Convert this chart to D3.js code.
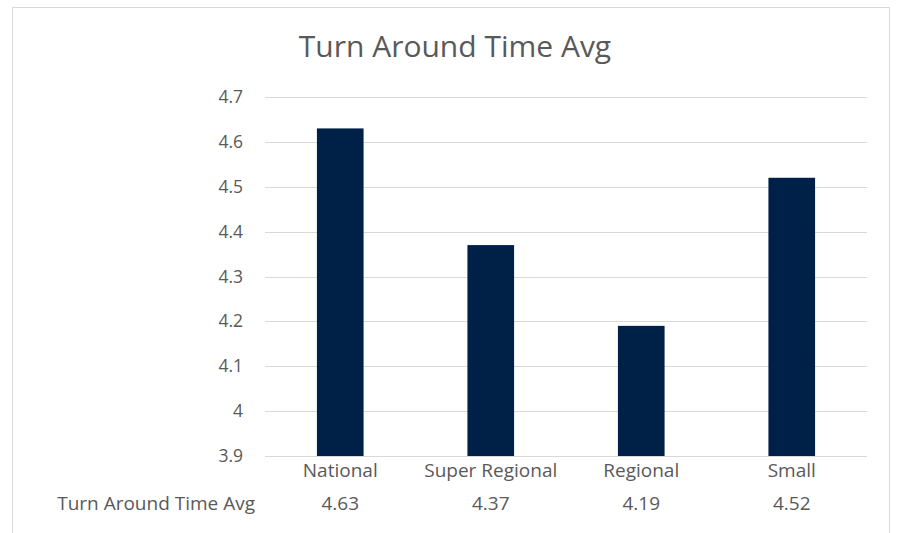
<!DOCTYPE html>
<html>
<head>
<meta charset="utf-8">
<script src="https://cdn.jsdelivr.net/npm/d3@7/dist/d3.min.js"></script>
<style>
  html, body { margin: 0; padding: 0; background: #fff; }
  svg { display: block; font-family: "Open Sans", "Noto Sans", sans-serif; }
</style>
</head>
<body>
<svg id="chart" width="897" height="533"></svg>
<script>
const title = "Turn Around Time Avg";
const categories = ["National", "Super Regional", "Regional", "Small"];
const values = [4.63, 4.37, 4.19, 4.52];
const seriesName = "Turn Around Time Avg";
const yTicks = [3.9, 4.0, 4.1, 4.2, 4.3, 4.4, 4.5, 4.6, 4.7];

const svg = d3.select("#chart");
const textColor = "#595959";
const labelSize = 19;
const tickSize = 17.5;

// chart frame
svg.append("rect")
  .attr("x", 12.5).attr("y", 7.5)
  .attr("width", 877).attr("height", 540)
  .attr("fill", "#fff").attr("stroke", "#d9d9d9");

const plot = { left: 265, right: 867, top: 97, bottom: 456 };

const x = d3.scaleBand().domain(categories)
  .range([plot.left, plot.right]).paddingInner(0.69).paddingOuter(0.345);
const y = d3.scaleLinear().domain([3.9, 4.7]).range([plot.bottom, plot.top]);

// gridlines
svg.append("g").selectAll("line").data(yTicks).join("line")
  .attr("x1", plot.left).attr("x2", plot.right)
  .attr("y1", d => Math.round(y(d)) + 0.5).attr("y2", d => Math.round(y(d)) + 0.5)
  .attr("stroke", "#d9d9d9").attr("stroke-width", 1);

// y axis labels
const yAxis = d3.axisLeft(y).tickValues(yTicks).tickSize(0).tickPadding(0)
  .tickFormat(d => d3.format("")(+d.toFixed(1)));
const gy = svg.append("g").attr("transform", `translate(${243},0)`).call(yAxis);
gy.select(".domain").remove();
gy.selectAll("text").attr("fill", textColor).attr("font-size", tickSize)
  .style("font-family", "'Open Sans', sans-serif");

// bars
svg.append("g").selectAll("rect").data(values).join("rect")
  .attr("x", (d, i) => x(categories[i]))
  .attr("width", x.bandwidth())
  .attr("y", d => y(d))
  .attr("height", d => y(3.9) - y(d))
  .attr("fill", "#002147");

// category labels
const xAxis = d3.axisBottom(x).tickSize(0).tickPadding(0);
const gx = svg.append("g").attr("transform", `translate(0,${plot.bottom})`).call(xAxis);
gx.select(".domain").remove();
gx.selectAll("text").attr("fill", textColor).attr("font-size", labelSize)
  .attr("dy", null).attr("y", 21)
  .style("font-family", "'Open Sans', sans-serif");

// data table row
svg.append("text")
  .attr("x", 255).attr("y", 510).attr("text-anchor", "end")
  .attr("fill", textColor).attr("font-size", labelSize)
  .text(seriesName);
svg.append("g").selectAll("text").data(values).join("text")
  .attr("x", (d, i) => x(categories[i]) + x.bandwidth() / 2)
  .attr("y", 510).attr("text-anchor", "middle")
  .attr("fill", textColor).attr("font-size", labelSize)
  .text(d => d.toFixed(2));

// title
svg.append("text")
  .attr("x", 455).attr("y", 57).attr("text-anchor", "middle")
  .attr("fill", textColor).attr("font-size", 30)
  .text(title);
</script>
</body>
</html>
